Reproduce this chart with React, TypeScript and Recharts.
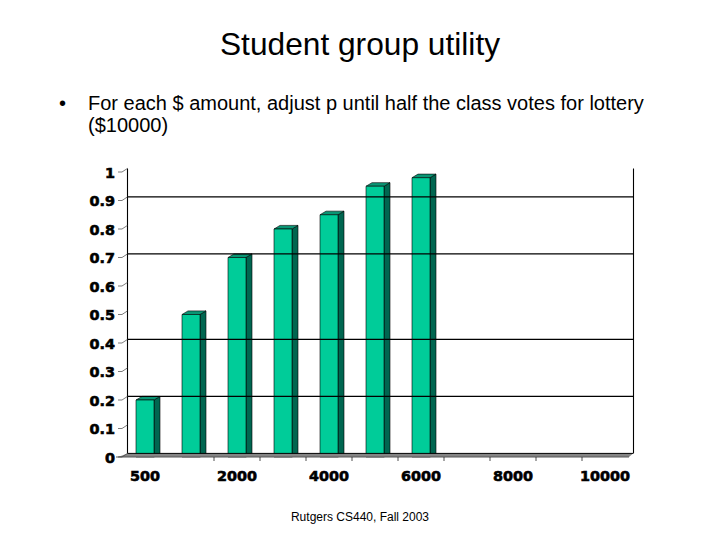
import React from 'react';
import { BarChart, Bar, XAxis, YAxis, ReferenceLine } from 'recharts';

const categories = ['500', '1000', '2000', '3000', '4000', '5000', '6000', '7000', '8000', '9000', '10000'];
const utility = [0.2, 0.5, 0.7, 0.8, 0.85, 0.95, 0.98, null, null, null, null];
const labelledCategories = ['500', '2000', '4000', '6000', '8000', '10000'];
const tickedCategories = ['2000', '3000', '4000', '5000', '6000', '7000', '8000', '9000', '10000'];
const yTicks = [0, 0.1, 0.2, 0.3, 0.4, 0.5, 0.6, 0.7, 0.8, 0.9, 1];
const gridValues = [0.2, 0.4, 0.7, 0.9];
const title = 'Student group utility';
const bulletLine1 = 'For each $ amount, adjust p until half the class votes for lottery';
const bulletLine2 = '($10000)';
const footer = 'Rutgers CS440, Fall 2003';

const data = categories.map((category, i) => ({ category, utility: utility[i] }));

const DX = 6;
const DY = 3.6;
const FONT = '"Liberation Sans", Arial, sans-serif';
const AXIS_FONT = '"DejaVu Sans", sans-serif';

function Bar3D(props: any) {
  const { x, y, width, height } = props;
  if (height == null || height <= 0) return null;
  const r = x + width;
  const b = y + height;
  return (
    <g stroke="#000" strokeWidth={0.6} strokeLinejoin="round">
      <polygon points={`${r},${y} ${r + DX},${y - DY} ${r + DX},${b - DY} ${r},${b}`} fill="#006650" />
      <polygon points={`${x},${y} ${x + DX},${y - DY} ${r + DX},${y - DY} ${r},${y}`} fill="#0A9574" />
      <rect x={x} y={y} width={width} height={height} fill="#00CC99" />
    </g>
  );
}

function GridBack(props: any) {
  const { x1, x2, y1 } = props;
  return <line x1={x1 + DX} x2={x2 + DX - 1} y1={y1 - DY} y2={y1 - DY} stroke="#000" strokeWidth={1.1} />;
}

function WallLine(props: any) {
  const { x1, y1, y2 } = props;
  return <line x1={x1 + 5.5} x2={x1 + 5.5} y1={y1 - DY} y2={y2 - DY} stroke="#000" strokeWidth={1.1} />;
}

function Floor(props: any) {
  const { x1, x2, y1 } = props;
  return (
    <g>
      <polygon
        points={`${x1 - 4},${y1} ${x1 + 5.5},${y1 - DY} ${x2 + 5},${y1 - DY} ${x2 + 1},${y1}`}
        fill="#858585"
      />
      <line x1={x1 + 5.5} x2={x2 + 5} y1={y1 - DY} y2={y1 - DY} stroke="#000" strokeWidth={1} />
      <line x1={x1 - 6} x2={x2 + 1} y1={y1} y2={y1} stroke="#555" strokeWidth={1} />
    </g>
  );
}

function XTick(props: any) {
  const { x, y, payload } = props;
  const step = 46;
  return (
    <g>
      {tickedCategories.includes(payload.value) && (
        <line x1={x - step / 2} x2={x - step / 2} y1={y - 8} y2={y - 4} stroke="#222" strokeWidth={0.8} />
      )}
      {labelledCategories.includes(payload.value) && (
        <text
          x={x}
          y={y + 15.5}
          textAnchor="middle"
          fontFamily={AXIS_FONT}
          fontWeight="bold"
          fontSize={14.4}
          fill="#000"
          stroke="#000"
          strokeWidth={0.6}
        >
          {payload.value}
        </text>
      )}
    </g>
  );
}

function YTick(props: any) {
  const { x, y, payload } = props;
  return (
    <g>
      <polyline
        points={`${x + 4},${y} ${x + 8},${y} ${x + 13.5},${y - DY}`}
        fill="none"
        stroke="#444"
        strokeWidth={0.7}
      />
      <text
        x={x + 1}
        y={y + 5.5}
        textAnchor="end"
        fontFamily={AXIS_FONT}
        fontWeight="bold"
        fontSize={14.4}
        fill="#000"
        stroke="#000"
        strokeWidth={0.6}
      >
        {payload.value}
      </text>
    </g>
  );
}

const textStyle: React.CSSProperties = {
  position: 'absolute',
  fontFamily: FONT,
  color: '#000',
  whiteSpace: 'nowrap',
  lineHeight: 1,
};

export default function App() {
  return (
    <div style={{ position: 'absolute', left: 0, top: 0, width: 720, height: 540, background: '#fff', overflow: 'hidden' }}>
      <div style={{ ...textStyle, left: 0, width: 720, textAlign: 'center', top: 28.5, fontSize: 31.7 }}>{title}</div>
      <div style={{ ...textStyle, left: 59, top: 93, fontSize: 20 }}>•</div>
      <div style={{ ...textStyle, left: 88, top: 93, fontSize: 20 }}>{bulletLine1}</div>
      <div style={{ ...textStyle, left: 88, top: 115, fontSize: 20 }}>{bulletLine2}</div>
      <div style={{ ...textStyle, left: 0, width: 720, textAlign: 'center', top: 511, fontSize: 12 }}>{footer}</div>
      <div style={{ position: 'absolute', left: 0, top: 0 }}>
        <BarChart
          width={720}
          height={540}
          data={data}
          margin={{ top: 172, right: 92, bottom: 0, left: 0 }}
          barCategoryGap={0}
        >
          <XAxis
            dataKey="category"
            interval={0}
            axisLine={false}
            tickLine={false}
            tick={XTick}
            height={83}
          />
          <YAxis
            type="number"
            domain={[0, 1]}
            ticks={yTicks}
            axisLine={false}
            tickLine={false}
            tick={YTick}
            width={122}
            interval={0}
          />
          <ReferenceLine y={0} shape={Floor} />
          <ReferenceLine x="500" position="start" shape={WallLine} />
          <ReferenceLine x="10000" position="end" shape={WallLine} />
          {gridValues.map((v) => (
            <ReferenceLine key={v} y={v} shape={GridBack} />
          ))}
          <Bar dataKey="utility" barSize={18} shape={Bar3D} isAnimationActive={false} />
        </BarChart>
      </div>
    </div>
  );
}
